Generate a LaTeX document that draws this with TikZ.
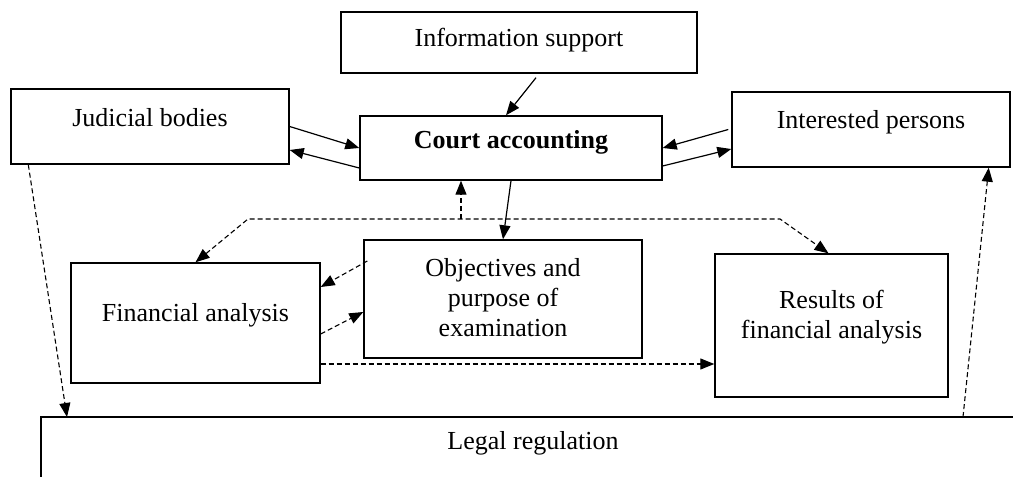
\documentclass[tikz,border=0pt]{standalone}
\usepackage{fontspec}
\setmainfont{Liberation Serif}
\usetikzlibrary{arrows.meta,calc}
\begin{document}
\begin{tikzpicture}[x=1pt,y=1pt,
  every node/.style={font=\fontsize{26}{30}\selectfont},
  box/.style={draw, line width=1.4pt, inner sep=0pt, rectangle},
  txt/.style={align=center, font=\fontsize{26}{30}\selectfont},
  tip/.style={-{Triangle[length=14pt,width=11pt]}},
  solidarrow/.style={line width=1.2pt, tip},
  dasharrow/.style={line width=1.1pt, dash pattern=on 5pt off 3pt, tip},
  dashline/.style={line width=1.1pt, dash pattern=on 5pt off 3pt}]
\useasboundingbox (0,0) rectangle (1013,477);

% boxes
\node[box, minimum width=356, minimum height=61, label={[txt,yshift=2.5]center:Information support}] (info) at (519,434.5) {};
\node[box, minimum width=278, minimum height=75, label={[txt,yshift=8.5]center:Judicial bodies}] (jb) at (150,350.5) {};
\node[box, minimum width=302, minimum height=64, label={[txt,yshift=6,font=\fontsize{26}{30}\selectfont\bfseries]center:Court accounting}] (ca) at (511,329) {};
\node[box, minimum width=278, minimum height=75, label={[txt,yshift=7.5]center:Interested persons}] (ip) at (871,347.5) {};
\node[box, minimum width=249, minimum height=120, label={[txt,yshift=8]center:Financial analysis}] (fa) at (195.5,154) {};
\node[box, minimum width=278, minimum height=118, label={[txt,yshift=1.5]center:Objectives and\\purpose of\\examination}] (ob) at (503,178) {};
\node[box, minimum width=233, minimum height=143, label={[txt,yshift=8.5]center:Results of\\financial analysis}] (rs) at (831.5,151.5) {};

% legal regulation (open frame: top and left sides)
\node[txt] (lr) at (533,34) {Legal regulation};
\coordinate (lrTL) at (41,60);
\coordinate (lrTR) at (1013,60);
\coordinate (lrBL) at (41,0);
\draw[line width=1.4pt] (lrBL) -- (lrTL) -- (lrTR);
\coordinate (lrA) at (67,60);
\coordinate (lrB) at (963,60);

% solid connectors
\draw[solidarrow] ([shift={(17,-4)}]info.south) -- ([xshift=-5]ca.north);
\draw[solidarrow] (jb.east) -- (ca.west);
\draw[solidarrow] ([yshift=-20]ca.west) -- ([yshift=-23.5]jb.east);
\draw[solidarrow] ([shift={(-3,0)}]ip.west) -- (ca.east);
\draw[solidarrow] ([yshift=-18]ca.east) -- ([yshift=-19.5]ip.west);
\draw[solidarrow] (ca.south) -- (ob.north);

% dashed network
\coordinate (jL) at (248,258);
\coordinate (jM) at (461,258);
\coordinate (jR) at (780,258);
\draw[dasharrow, {Triangle[length=14pt,width=11pt]}-{Triangle[length=14pt,width=11pt]}] (fa.north) -- (jL) -- (jR) -- ([xshift=-3]rs.north);
\draw[dasharrow] (jM) -- (jM |- ca.south);

\draw[dasharrow] ([shift={(4,38)}]ob.west) -- ([yshift=36]fa.east);
\draw[dasharrow] ([yshift=-11]fa.east) -- ([yshift=-13]ob.west);
\draw[dasharrow] ([yshift=-41]fa.east) -- ([yshift=-41]fa.east -| rs.west);

\draw[dasharrow] ([xshift=18]jb.south west) -- (lrA);
\draw[dasharrow] (lrB) -- ([xshift=-22]ip.south east);
\end{tikzpicture}
\end{document}
